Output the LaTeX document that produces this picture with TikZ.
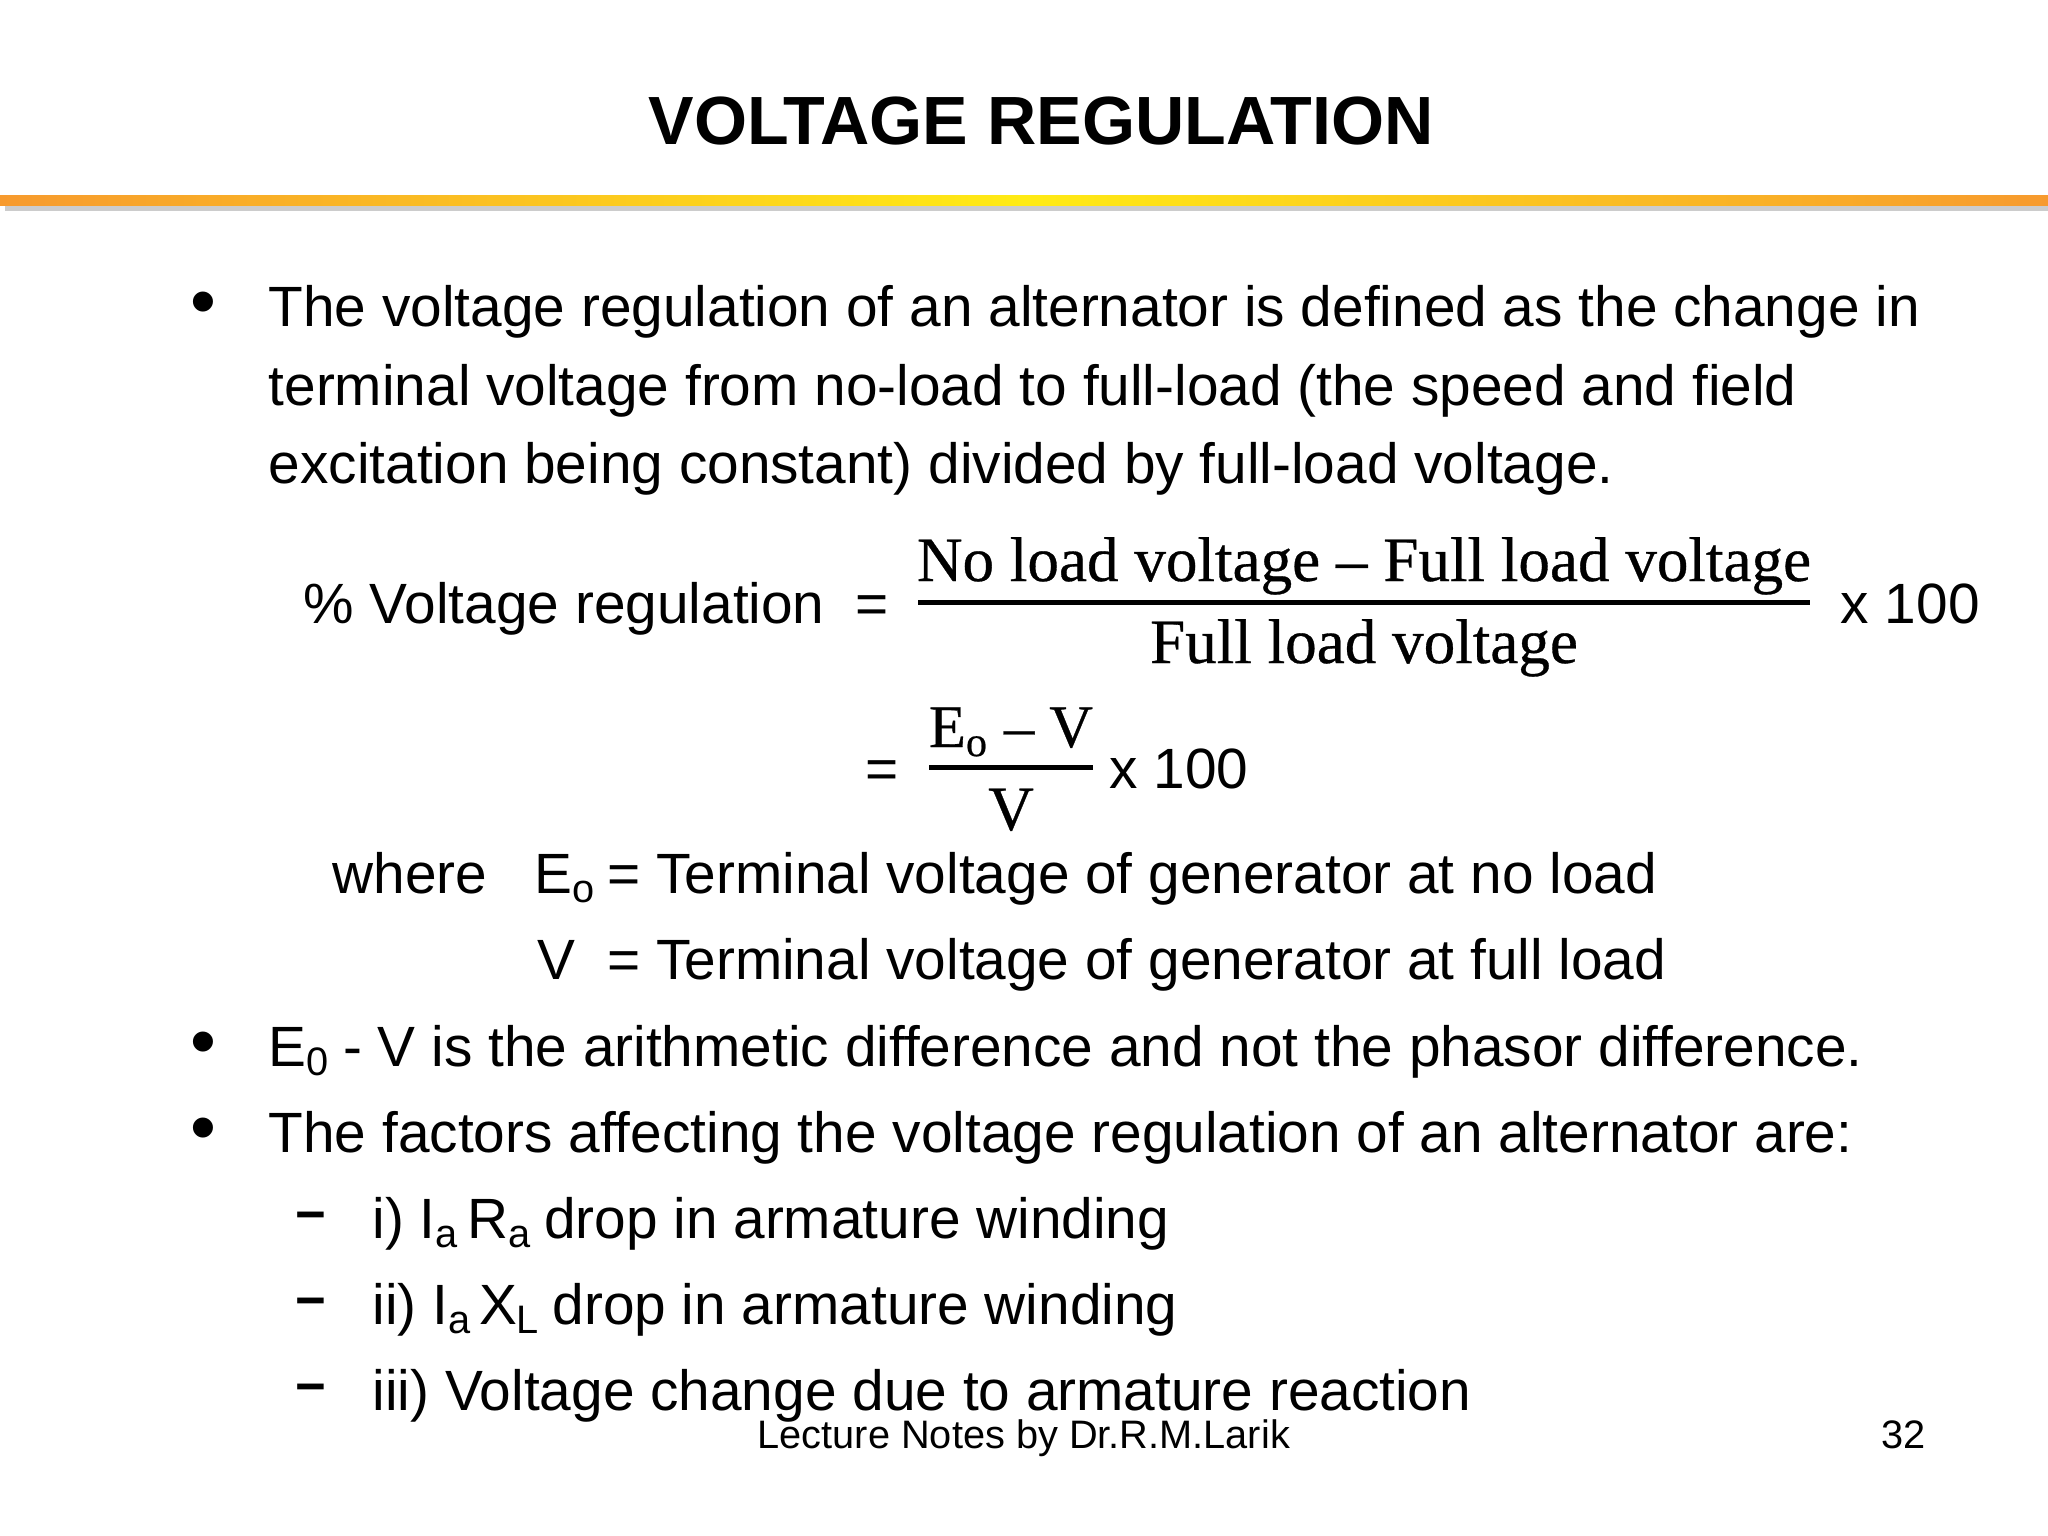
\documentclass[tikz,border=0pt]{standalone}
\usepackage{fontspec}
\setmainfont{Liberation Sans}
\newfontfamily\fracfont[FakeBold=0.5]{Liberation Serif}
\usetikzlibrary{positioning}
\definecolor{barorange}{HTML}{F79A2E}
\definecolor{baryellow}{HTML}{FFEB14}
\definecolor{barshadow}{HTML}{CCCCCC}
\tikzset{
    line/.style={anchor=base west,inner sep=0pt,font=\fontsize{16.15}{20}\selectfont},
    bulletmark/.style={anchor=base,inner sep=0pt,font=\fontsize{21}{25}\selectfont},
    dashmark/.style={anchor=base,inner sep=0pt,font=\fontsize{15}{18}\selectfont\bfseries},
    fracline/.style={anchor=base,inner sep=0pt,font=\fontsize{17.95}{22}\selectfont\fracfont},
    footer/.style={anchor=base west,inner sep=0pt,font=\fontsize{11.3}{14}\selectfont},
    fracbar/.style={line width=0.05cm}
}

\begin{document}
\begin{tikzpicture}[x=0.01cm,y=-0.01cm]
    \useasboundingbox (0,0) rectangle (2048,1536);
    % title and bar
    \node[anchor=base,inner sep=0pt,font=\fontsize{19.4}{24}\selectfont\bfseries] (title) at (1041,144) {VOLTAGE REGULATION};
    \fill[barshadow] (5,205) rectangle (2048,211);
    \shade[left color=barorange,right color=baryellow] (0,195) rectangle (1024,205);
    \shade[left color=baryellow,right color=barorange] (1024,195) rectangle (2048,205);
    % first bullet
    \node[bulletmark] (b1) at (203,326) {•};
    \node[line] (l1) at (268,326) {The voltage regulation of an alternator is defined as the change in};
    \node[line] (l2) at (268,405) {terminal voltage from no-load to full-load (the speed and field};
    \node[line] (l3) at (268,483) {excitation being constant) divided by full-load voltage.};
    % formula
    \node[line] (reg) at (303,623) {\% Voltage regulation};
    \node[line] (eq1) at (855,623) {=};
    \node[fracline] (num1) at (1364,581) {No load voltage – Full load voltage};
    \node[fracline] (den1) at (1364,663) {Full load voltage};
    \coordinate (bar1l) at (918,602);
    \coordinate (bar1r) at (1810,602);
    \draw[fracbar] (bar1l) -- (bar1r);
    \node[line] (times1) at (1840,623) {x 100};
    \node[line] (eq2) at (865,788) {=};
    \node[fracline,font=\fontsize{17.2}{21}\selectfont\fracfont] (num2) at (1011,747) {E\textsubscript{o} – V};
    \node[fracline] (den2) at (1011,830) {V};
    \coordinate (bar2l) at (929,767);
    \coordinate (bar2r) at (1093,767);
    \draw[fracbar] (bar2l) -- (bar2r);
    \node[line] (times2) at (1109,788) {x 100};
    \node[line] (where) at (332,893) {where};
    \node[line] (eo) at (534,893) {E\textsubscript{o}\kern-0.05cm{} = Terminal voltage of generator at no load};
    \node[line] (v) at (537,979) {V\ \ = Terminal voltage of generator at full load};
    % other bullets
    \node[bulletmark] (b2) at (203,1066) {•};
    \node[line] (l4) at (268,1066) {E\textsubscript{0}\kern-0.03cm{} - V is the arithmetic difference and not the phasor difference.};
    \node[bulletmark] (b3) at (203,1152) {•};
    \node[line] (l5) at (268,1152) {The factors affecting the voltage regulation of an alternator are:};
    \node[dashmark] (d1) at (311,1232) {−};
    \node[line] (f1) at (372,1238) {i) I\textsubscript{a}\kern-0.08cm{} R\textsubscript{a}\kern-0.04cm{} drop in armature winding};
    \node[dashmark] (d2) at (311,1318) {−};
    \node[line] (f2) at (372,1324) {ii) I\textsubscript{a}\kern-0.09cm{} X\textsubscript{L}\kern-0.04cm{} drop in armature winding};
    \node[dashmark] (d3) at (311,1404) {−};
    \node[line] (f3) at (372,1410) {iii) Voltage change due to armature reaction};
    % footer
    \node[footer] (notes) at (757,1448) {Lecture Notes by Dr.R.M.Larik};
    \node[footer] (page) at (1881,1448) {32};
\end{tikzpicture}
\end{document}
